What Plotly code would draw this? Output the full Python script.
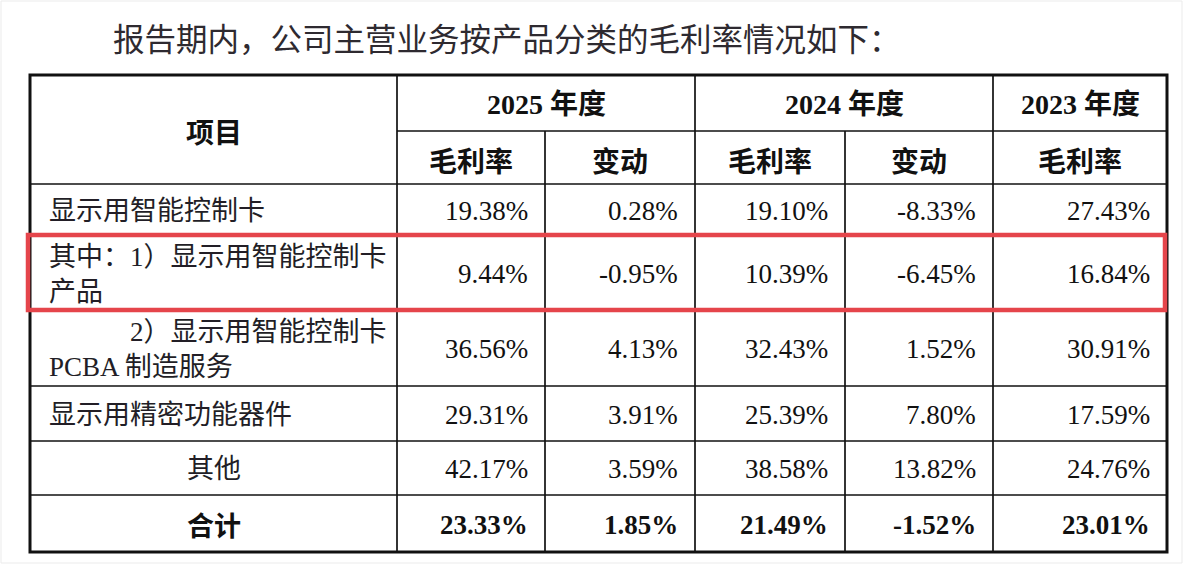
import plotly.graph_objects as go

# ---------------- data ----------------
TITLE = "报告期内，公司主营业务按产品分类的毛利率情况如下："
ITEM_HEADER = "项目"
YEARS = ["2025 年度", "2024 年度", "2023 年度"]
SUB_HEADERS = ["毛利率", "变动", "毛利率", "变动", "毛利率"]
ROW_LABELS = [
    "显示用智能控制卡",
    "其中：1）显示用智能控制卡<br>产品",
    "\u3000\u3000\u30002）显示用智能控制卡<br>PCBA 制造服务",
    "显示用精密功能器件",
    "其他",
    "合计",
]
GM_2025 = [19.38, 9.44, 36.56, 29.31, 42.17, 23.33]
CHG_2025 = [0.28, -0.95, 4.13, 3.91, 3.59, 1.85]
GM_2024 = [19.10, 10.39, 32.43, 25.39, 38.58, 21.49]
CHG_2024 = [-8.33, -6.45, 1.52, 7.80, 13.82, -1.52]
GM_2023 = [27.43, 16.84, 30.91, 17.59, 24.76, 23.01]
HIGHLIGHT_ROW = 1
TOTAL_ROW = 5

# ---------------- layout constants ----------------
W, H = 1188, 566
COL_EDGES = [30, 397, 545, 695, 845, 993, 1167]
HEAD_TOP, HEAD_MID, HEAD_BOT = 75, 131, 184
ROW_EDGES = [184, 236, 310, 386, 441, 495, 552]
LABEL_ALIGN = ["left", "left", "left", "left", "center", "center"]
YEAR_SPANS = [(1, 3), (3, 5), (5, 6)]

SERIF = "Liberation Serif, Noto Sans CJK SC, serif"
SANS = "Noto Sans CJK SC, sans-serif"
INK = "#111111"
LABEL_INK = "#221e26"
RED = "#e5454b"

columns = [GM_2025, CHG_2025, GM_2024, CHG_2024, GM_2023]

fig = go.Figure()
shapes = []
annotations = []


def line(x0, y0, x1, y1, w=1.7, color=INK):
    shapes.append(dict(type="line", x0=x0, y0=y0, x1=x1, y1=y1, xref="x", yref="y",
                       line=dict(color=color, width=w), layer="above"))


# faint page frame
shapes.append(dict(type="rect", x0=1, y0=1, x1=1182, y1=563, xref="x", yref="y",
                   line=dict(color="#ebebeb", width=1), layer="below"))

# inner grid
for x in COL_EDGES[1:-1]:
    top = HEAD_TOP
    if x in (COL_EDGES[2], COL_EDGES[4]):
        top = HEAD_MID
    line(x, top, x, ROW_EDGES[-1])
line(COL_EDGES[1], HEAD_MID, COL_EDGES[-1], HEAD_MID)
for y in ROW_EDGES[:-1]:
    line(COL_EDGES[0], y, COL_EDGES[-1], y)

# outer border
shapes.append(dict(type="rect", x0=COL_EDGES[0], y0=HEAD_TOP, x1=COL_EDGES[-1], y1=ROW_EDGES[-1],
                   xref="x", yref="y", line=dict(color=INK, width=3), layer="above"))

# highlight box
shapes.append(dict(type="rect", x0=COL_EDGES[0] - 2, y0=ROW_EDGES[HIGHLIGHT_ROW] - 1,
                   x1=COL_EDGES[-1] - 2, y1=ROW_EDGES[HIGHLIGHT_ROW + 1],
                   xref="x", yref="y", line=dict(color=RED, width=4.5), layer="above"))


def text(x, y, s, size, family, xanchor="center", color=INK, bold=False, align="center"):
    if bold:
        s = "<b>" + s + "</b>"
    annotations.append(dict(x=x, y=y, xref="x", yref="y", text=s, showarrow=False,
                            xanchor=xanchor, yanchor="middle", align=align,
                            font=dict(size=size, family=family, color=color)))


# title
text(111, 37, TITLE, 31.5, SANS, xanchor="left", color="#2e2a30")

# header
text((COL_EDGES[0] + COL_EDGES[1]) / 2, (HEAD_TOP + HEAD_BOT) / 2 + 1, ITEM_HEADER, 28, SANS, bold=True)
for (a, b), yr in zip(YEAR_SPANS, YEARS):
    text((COL_EDGES[a] + COL_EDGES[b]) / 2, (HEAD_TOP + HEAD_MID) / 2 + 1, yr, 28, SERIF, bold=True)
for i, sh in enumerate(SUB_HEADERS):
    text((COL_EDGES[i + 1] + COL_EDGES[i + 2]) / 2, (HEAD_MID + HEAD_BOT) / 2 + 2, sh, 28, SANS, bold=True)

# body
for r, lab in enumerate(ROW_LABELS):
    yc = (ROW_EDGES[r] + ROW_EDGES[r + 1]) / 2 + 1
    bold = r == TOTAL_ROW
    if LABEL_ALIGN[r] == "left":
        text(COL_EDGES[0] + 17, yc, lab, 27, SERIF, xanchor="left", color=LABEL_INK, align="left")
    else:
        text((COL_EDGES[0] + COL_EDGES[1]) / 2, yc, lab, 27, SERIF if not bold else SANS,
             color=INK if bold else LABEL_INK, bold=bold)
    for c, col in enumerate(columns):
        text(COL_EDGES[c + 2] - 15, yc, f"{col[r]:.2f}%", 27, SERIF, xanchor="right", bold=bold)

fig.update_layout(
    width=W, height=H, autosize=False,
    margin=dict(l=0, r=0, t=0, b=0),
    paper_bgcolor="white", plot_bgcolor="white",
    xaxis=dict(range=[0, W], visible=False, fixedrange=True),
    yaxis=dict(range=[H, 0], visible=False, fixedrange=True),
    shapes=shapes, annotations=annotations, showlegend=False,
)

fig.write_html("out.html", config=dict(displayModeBar=False, staticPlot=True),
               post_script="document.body.style.margin='0';document.body.style.overflow='hidden';")
